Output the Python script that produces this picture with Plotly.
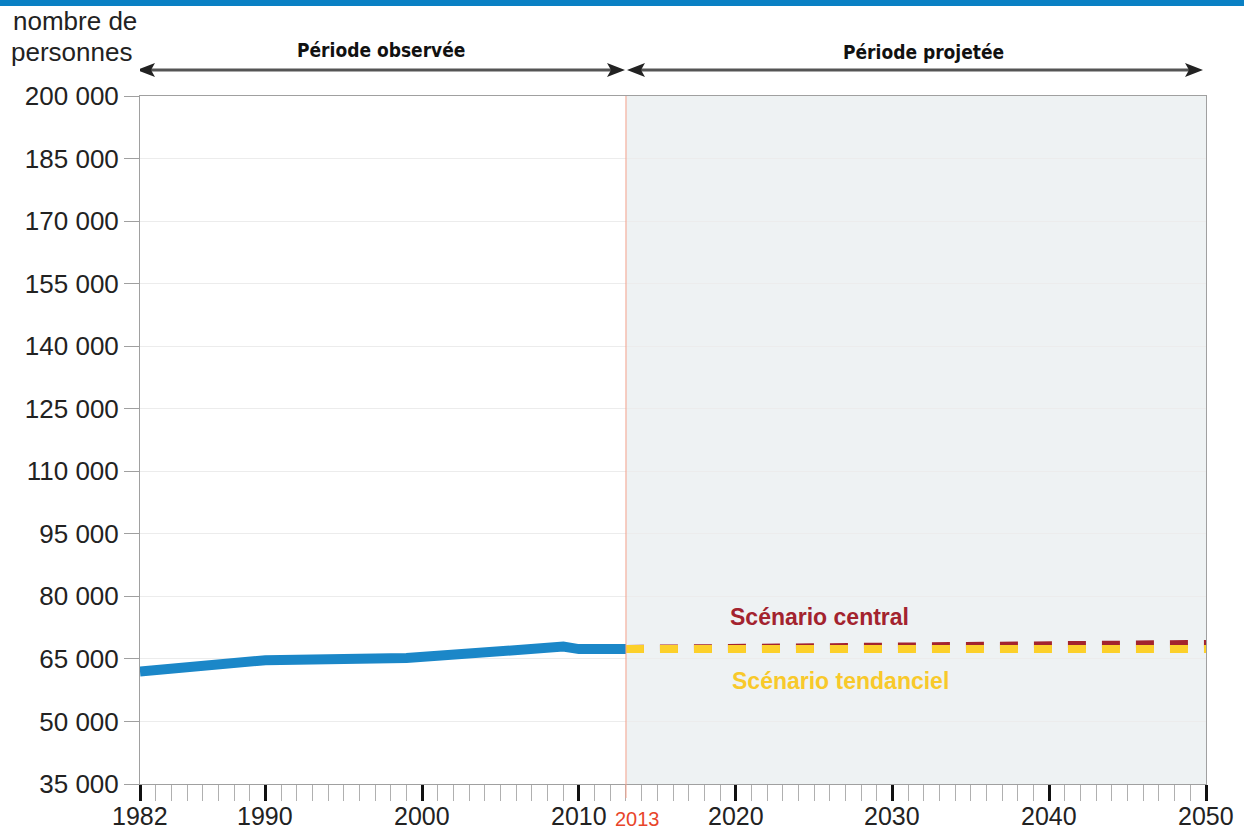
import plotly.graph_objects as go

# ---------------- data ----------------
years_obs = [1982, 1990, 1999, 2006, 2007, 2008, 2009, 2010, 2011, 2012, 2013]
pop_obs = [62000, 64700, 65200, 67000, 67400, 67700, 67950, 67350, 67400, 67350, 67400]

years_proj = [2013, 2020, 2030, 2040, 2050]
pop_central = [67400, 67700, 68000, 68300, 68600]
pop_tendanciel = [67400, 67350, 67250, 67300, 67400]

y_ticks = [35000, 50000, 65000, 80000, 95000, 110000, 125000, 140000, 155000, 170000, 185000, 200000]
y_ticktext = [f"{v:,}".replace(",", " ") for v in y_ticks]
x_major = [1982, 1990, 2000, 2010, 2020, 2030, 2040, 2050]
x_major_text = [str(v) for v in x_major]

split_year = 2013
x_min, x_max = 1982, 2050
y_min, y_max = 35000, 200000

# ---------------- layout geometry ----------------
W, H = 1244, 830
ML, MR, MT, MB = 140, 38, 96, 46
PW, PH = W - ML - MR, H - MT - MB


def px_x(px):  # pixel x -> data x
    return x_min + (px - ML) / PW * (x_max - x_min)


def px_xp(px):  # pixel x -> paper x
    return (px - ML) / PW


def px_yp(py):  # pixel y -> paper y
    return (H - MB - py) / PH


BLUE = "#1b87c8"
RED = "#a3232e"
YEL = "#fcd02a"
ARROW = "#222222"
NARROW = "Liberation Sans Narrow, Arial Narrow, DejaVu Sans Condensed, sans-serif"
SANS = "Liberation Sans, Arial"

fig = go.Figure()

fig.add_trace(go.Scatter(x=years_obs, y=pop_obs, mode="lines",
                         line=dict(color=BLUE, width=10), showlegend=False,
                         hoverinfo="skip"))
fig.add_trace(go.Scatter(x=years_proj, y=pop_central, mode="lines",
                         line=dict(color=RED, width=8, dash="18px,16px"),
                         showlegend=False, hoverinfo="skip"))
fig.add_trace(go.Scatter(x=years_proj, y=pop_tendanciel, mode="lines",
                         line=dict(color=YEL, width=8, dash="18px,16px"),
                         showlegend=False, hoverinfo="skip"))

shapes = []
# projected-period shading
shapes.append(dict(type="rect", xref="x", yref="paper", x0=split_year, x1=x_max,
                   y0=0, y1=1, fillcolor="#eef2f3", line=dict(width=0), layer="below"))
# red vertical split line
shapes.append(dict(type="line", xref="x", yref="paper", x0=split_year, x1=split_year,
                   y0=px_yp(798), y1=1, line=dict(color="#f4a08a", width=1), layer="above"))
# blue band on top
shapes.append(dict(type="rect", xref="paper", yref="paper", x0=px_xp(0), x1=px_xp(W),
                   y0=px_yp(6), y1=px_yp(0), fillcolor="#0a80c4", line=dict(width=0)))

# arrows
arrow_y = 70


def arrow_line(x0, x1):
    shapes.append(dict(type="line", xref="x", yref="paper", x0=px_x(x0), x1=px_x(x1),
                       y0=px_yp(arrow_y), y1=px_yp(arrow_y),
                       line=dict(color="#555555", width=3)))


def head(tip, direction):
    back = tip - direction * 18
    notch = tip - direction * 14
    pts = [(tip, arrow_y), (back, arrow_y - 7), (notch, arrow_y), (back, arrow_y + 7)]
    path = "M " + " L ".join(f"{px_x(a):.5f},{px_yp(b):.5f}" for a, b in pts) + " Z"
    shapes.append(dict(type="path", xref="x", yref="paper", path=path,
                       fillcolor=ARROW, line=dict(width=0)))


arrow_line(145, 615)
head(137, -1)
head(625, 1)
arrow_line(636, 1195)
head(627, -1)
head(1203, 1)

annotations = [
    dict(text="nombre de", xref="paper", yref="paper", x=px_xp(11), y=px_yp(21),
         xanchor="left", yanchor="middle", showarrow=False,
         font=dict(family=SANS, size=26, color="#222")),
    dict(text="personnes", xref="paper", yref="paper", x=px_xp(9), y=px_yp(52),
         xanchor="left", yanchor="middle", showarrow=False,
         font=dict(family=SANS, size=26, color="#222")),
    dict(text="<b>Période observée</b>", xref="paper", yref="paper", x=px_xp(381),
         y=px_yp(50), xanchor="center", yanchor="middle", showarrow=False,
         font=dict(family=NARROW, size=19, color="#111")),
    dict(text="<b>Période projetée</b>", xref="paper", yref="paper", x=px_xp(923),
         y=px_yp(52), xanchor="center", yanchor="middle", showarrow=False,
         font=dict(family=NARROW, size=19, color="#111")),
    dict(text=str(split_year), xref="x", yref="paper", x=split_year, xshift=12,
         y=px_yp(819), xanchor="center", yanchor="middle", showarrow=False,
         font=dict(family=SANS, size=20, color="#e8452a")),
    dict(text="<b>Scénario central</b>", xref="paper", yref="paper", x=px_xp(819),
         y=px_yp(617), xanchor="center", yanchor="middle", showarrow=False,
         font=dict(family=SANS, size=23, color=RED)),
    dict(text="<b>Scénario tendanciel</b>", xref="paper", yref="paper", x=px_xp(840),
         y=px_yp(681), xanchor="center", yanchor="middle", showarrow=False,
         font=dict(family=SANS, size=23, color="#f8c92a")),
]
# x-axis year labels (placed as annotations to match the reference spacing)
for yr, txt in zip(x_major, x_major_text):
    annotations.append(dict(text=txt, xref="x", yref="paper", x=yr, y=px_yp(816),
                            xanchor="center", yanchor="middle", showarrow=False,
                            font=dict(family=SANS, size=25, color="#222")))

fig.update_layout(
    width=W, height=H,
    margin=dict(l=ML, r=MR, t=MT, b=MB, pad=0, autoexpand=False),
    paper_bgcolor="white", plot_bgcolor="white",
    shapes=shapes, annotations=annotations,
    font=dict(family=SANS, color="#222"),
    showlegend=False,
)
fig.update_xaxes(
    range=[x_min, x_max], tickmode="array", tickvals=x_major, ticktext=x_major_text,
    showticklabels=False,
    ticks="outside", ticklen=16, tickwidth=3, tickcolor="#111", automargin=False,
    showline=True, linecolor="#a0a0a0", linewidth=1, mirror=True,
    showgrid=False, zeroline=False,
    minor=dict(ticks="outside", ticklen=16, tickwidth=1, tickcolor="#b0b0b0",
               tick0=x_min, dtick=1, showgrid=False),
)
fig.update_yaxes(
    range=[y_min, y_max], tickmode="array", tickvals=y_ticks, ticktext=y_ticktext,
    ticks="outside", ticklen=15, tickwidth=1, tickcolor="#a0a0a0",
    tickfont=dict(size=26, color="#222"), automargin=False,
    showline=True, linecolor="#a0a0a0", linewidth=1, mirror=True,
    showgrid=True, gridcolor="#ececec", gridwidth=1, zeroline=False,
)

fig.write_html("out.html", config={"displayModeBar": False},
               post_script="document.body.style.margin='0px';document.body.style.overflow='hidden';")
